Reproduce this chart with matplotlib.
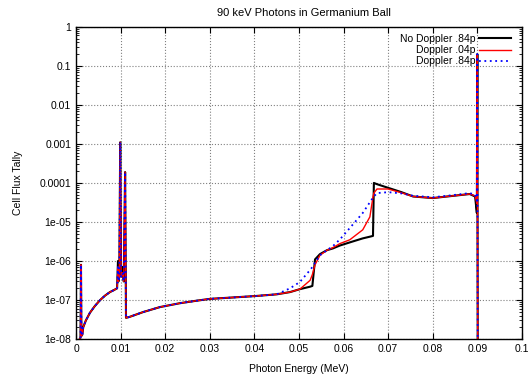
import matplotlib
matplotlib.use("Agg")
import matplotlib.pyplot as plt
from matplotlib.ticker import FixedLocator, LogLocator, NullFormatter

plt.rcParams["font.family"] = ["Liberation Sans", "DejaVu Sans"]

# photon energy grid (MeV)
energy = [0.0004, 0.0010, 0.0011, 0.0012, 0.0014, 0.0016, 0.0022, 0.0031, 0.0042,
          0.0054, 0.0065, 0.0076, 0.0085, 0.0092, 0.0094, 0.0095, 0.0097, 0.0099,
          0.0101, 0.0104, 0.0107, 0.0110, 0.0112, 0.0120, 0.0150, 0.0188, 0.0233,
          0.0270, 0.0300, 0.0350, 0.0400, 0.0450, 0.0480, 0.0502, 0.0525, 0.0530,
          0.0536, 0.0547, 0.0563, 0.0576, 0.0592, 0.0614, 0.0643, 0.0659, 0.0666,
          0.0668, 0.0675, 0.0700, 0.0730, 0.0756, 0.0800, 0.0840, 0.0883, 0.0895,
          0.0899, 0.0900, 0.0901]

low_part = [8e-9, 1.1e-8, 8e-7, 1.2e-8, 1.3e-8, 2e-8, 3e-8, 4.7e-8, 7e-8,
            1e-7, 1.3e-7, 1.6e-7, 1.8e-7, 2e-7]
mid_part = [1.1e-3, 4e-7]
flat_part = [3e-7, 1.9e-4, 3.5e-8, 3.7e-8, 4.9e-8, 6.6e-8, 8.3e-8,
             9.6e-8, 1.07e-7, 1.16e-7, 1.26e-7, 1.4e-7]

no_doppler_84 = (low_part + [1e-6, 3e-7, 4e-7] + mid_part + [7e-7] + flat_part +
                 [1.6e-7, 1.9e-7, 2.2e-7, 2.3e-7, 1.1e-6, 1.5e-6, 1.9e-6, 2.1e-6,
                  2.5e-6, 3e-6, 3.8e-6, 4.2e-6, 4.4e-6, 1e-4, 9.3e-5, 7.5e-5, 5.8e-5,
                  4.5e-5, 4.1e-5, 4.6e-5, 5.2e-5, 4.5e-5, 1.7e-5, 0.2, 1e-9])
doppler_04 = (low_part + [7e-7, 3e-7, 4e-7] + mid_part + [5e-7] + flat_part +
              [1.6e-7, 1.9e-7, 3.2e-7, 4.5e-7, 8e-7, 1.4e-6, 1.9e-6, 2.2e-6,
               2.8e-6, 3.5e-6, 6.3e-6, 1.35e-5, 4.4e-5, 5.5e-5, 7e-5, 7e-5, 5.6e-5,
               4.5e-5, 4.1e-5, 4.6e-5, 5.2e-5, 4.7e-5, 3e-5, 0.2, 1e-9])
doppler_84 = (low_part + [7e-7, 3e-7, 4e-7] + mid_part + [5e-7] + flat_part +
              [2.0e-7, 2.9e-7, 5.9e-7, 7e-7, 9e-7, 1.4e-6, 1.9e-6, 2.4e-6,
               3.6e-6, 7e-6, 1.7e-5, 3.2e-5, 4.2e-5, 4.5e-5, 5.5e-5, 5.8e-5, 5.4e-5,
               4.7e-5, 4.3e-5, 4.8e-5, 5.5e-5, 5e-5, 3.5e-5, 0.2, 1e-9])

x_ticks = [0, 0.01, 0.02, 0.03, 0.04, 0.05, 0.06, 0.07, 0.08, 0.09, 0.1]
x_labels = ["0", "0.01", "0.02", "0.03", "0.04", "0.05", "0.06", "0.07", "0.08", "0.09", "0.1"]
y_ticks = [1e-8, 1e-7, 1e-6, 1e-5, 1e-4, 1e-3, 1e-2, 1e-1, 1]
y_labels = ["1e-08", "1e-07", "1e-06", "1e-05", "0.0001", "0.001", "0.01", "0.1", "1"]

fs = 7.5
fig, ax = plt.subplots(figsize=(5.32, 3.78), dpi=100)
fig.subplots_adjust(left=0.143, right=0.981, top=0.929, bottom=0.103)

ax.plot(energy, no_doppler_84, color="black", lw=1.5, label="No Doppler .84p")
ax.plot(energy, doppler_04, color="red", lw=1.0, label="Doppler .04p")
ax.plot(energy, doppler_84, color="blue", lw=1.3, ls=(0, (1, 2)), label="Doppler .84p")

ax.set_yscale("log")
ax.set_xlim(0, 0.1)
ax.set_ylim(1e-8, 1)

ax.xaxis.set_major_locator(FixedLocator(x_ticks))
ax.set_xticklabels(x_labels)
ax.yaxis.set_major_locator(FixedLocator(y_ticks))
ax.set_yticklabels(y_labels)
ax.yaxis.set_minor_locator(LogLocator(base=10, subs=range(2, 10), numticks=20))
ax.yaxis.set_minor_formatter(NullFormatter())

ax.tick_params(which="both", direction="in", top=True, right=True, labelsize=fs)
ax.tick_params(which="major", length=4, width=0.8)
ax.tick_params(which="minor", length=2, width=0.6)
ax.grid(True, which="major", color="#808080", ls=":", lw=0.8)
for s in ax.spines.values():
    s.set_linewidth(1.0)

ax.set_title("90 keV Photons in Germanium Ball", fontsize=8, x=0.51, pad=8)
ax.set_xlabel("Photon Energy (MeV)", fontsize=fs, labelpad=7)
ax.set_ylabel("Cell Flux Tally", fontsize=fs, labelpad=12)

ax.legend(loc="upper right", bbox_to_anchor=(0.984, 0.99), frameon=False, fontsize=fs,
          markerfirst=False, handlelength=3.0, labelspacing=0.1, borderaxespad=0.0,
          handletextpad=0.4)

fig.savefig("out.png", dpi=100)
